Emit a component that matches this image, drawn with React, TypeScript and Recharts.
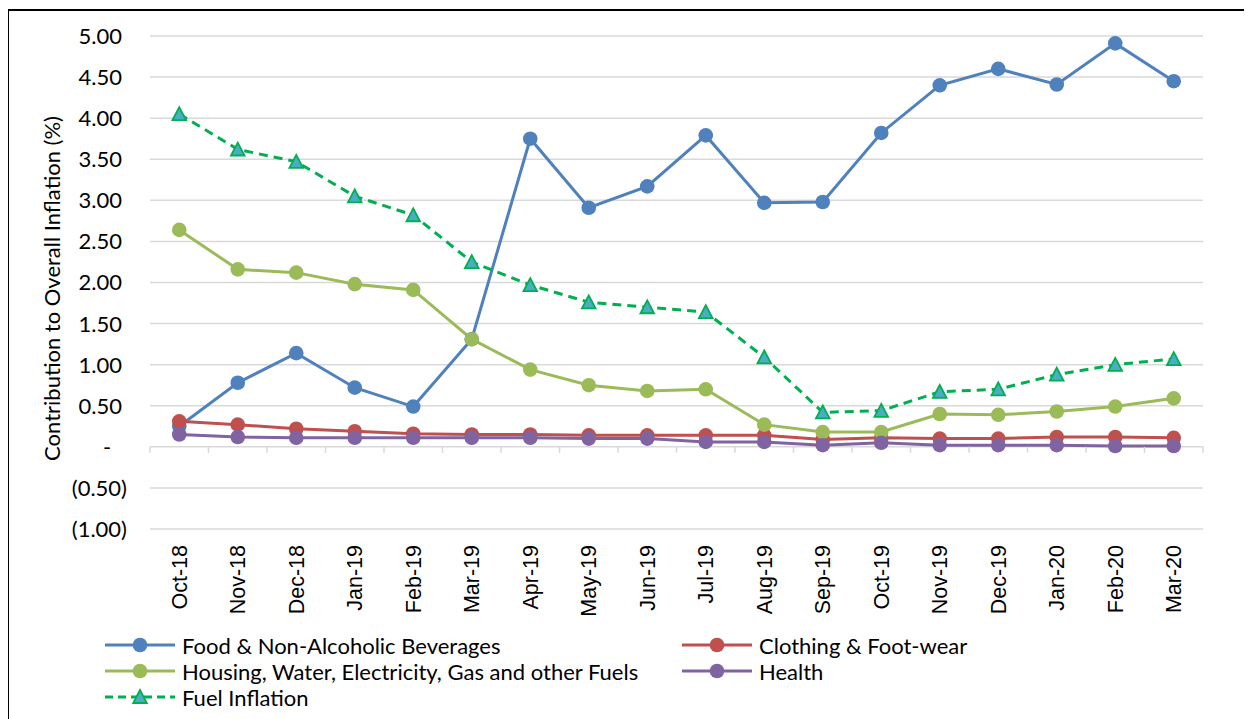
import React from 'react';
import { LineChart, Line, XAxis, YAxis, CartesianGrid, Legend } from 'recharts';

const months = ['Oct-18', 'Nov-18', 'Dec-18', 'Jan-19', 'Feb-19', 'Mar-19', 'Apr-19', 'May-19', 'Jun-19', 'Jul-19', 'Aug-19', 'Sep-19', 'Oct-19', 'Nov-19', 'Dec-19', 'Jan-20', 'Feb-20', 'Mar-20'];
const food = [0.25, 0.78, 1.14, 0.72, 0.49, 1.31, 3.75, 2.91, 3.17, 3.79, 2.97, 2.98, 3.82, 4.40, 4.60, 4.41, 4.91, 4.45];
const clothing = [0.31, 0.27, 0.22, 0.19, 0.16, 0.15, 0.15, 0.14, 0.14, 0.14, 0.14, 0.09, 0.11, 0.10, 0.10, 0.12, 0.12, 0.11];
const housing = [2.64, 2.16, 2.12, 1.98, 1.91, 1.31, 0.94, 0.75, 0.68, 0.70, 0.27, 0.18, 0.18, 0.40, 0.39, 0.43, 0.49, 0.59];
const health = [0.15, 0.12, 0.11, 0.11, 0.11, 0.11, 0.11, 0.10, 0.10, 0.06, 0.06, 0.02, 0.05, 0.02, 0.02, 0.02, 0.01, 0.01];
const fuel = [4.05, 3.62, 3.47, 3.05, 2.82, 2.25, 1.97, 1.76, 1.70, 1.64, 1.09, 0.42, 0.44, 0.67, 0.70, 0.88, 1.00, 1.07];
const yTicks = [-1, -0.5, 0, 0.5, 1, 1.5, 2, 2.5, 3, 3.5, 4, 4.5, 5];

const seriesNames = {
  food: 'Food & Non-Alcoholic Beverages',
  clothing: 'Clothing & Foot-wear',
  housing: 'Housing, Water, Electricity, Gas and other Fuels',
  health: 'Health',
  fuel: 'Fuel Inflation',
};

const data = months.map((m, i) => ({
  month: m,
  food: food[i],
  clothing: clothing[i],
  housing: housing[i],
  health: health[i],
  fuel: fuel[i],
}));

// layout
const W = 1243;
const H = 708;
const MARGIN = { top: 25, right: 49, left: 0, bottom: 90 };
const Y_AXIS_W = 141;
const X_AXIS_H = 100;
const PLOT_W = W - MARGIN.left - MARGIN.right - Y_AXIS_W;
const PLOT_H = H - MARGIN.top - MARGIN.bottom - X_AXIS_H;
const BAND = PLOT_W / months.length;
const Y_MIN = -1;
const Y_MAX = 5;

const COLORS = {
  food: '#4f81bd',
  clothing: '#c0504d',
  housing: '#9bbb59',
  health: '#8064a2',
  fuel: '#00b050',
  fuelFill: '#4bacc6',
  grid: '#d9d9d9',
};

const CAL = 'Lato, "Open Sans", sans-serif';
const ARIAL = '"Liberation Sans", Arial, sans-serif';

const XTick = (props: any) => {
  const { x, y, payload, index } = props;
  const zeroY = y - (PLOT_H * (0 - Y_MIN)) / (Y_MAX - Y_MIN);
  const half = BAND / 2;
  const ty = y + 16;
  return (
    <g>
      <line x1={x - half} x2={x - half} y1={zeroY} y2={zeroY + 6} stroke={COLORS.grid} strokeWidth={1.5} />
      {index === months.length - 1 && (
        <line x1={x + half} x2={x + half} y1={zeroY} y2={zeroY + 6} stroke={COLORS.grid} strokeWidth={1.5} />
      )}
      <text
        x={x}
        y={ty}
        dy="0.36em"
        transform={`rotate(-90, ${x}, ${ty})`}
        textAnchor="end"
        fontFamily={ARIAL}
        fontSize={21.5}
        fill="#000"
      >
        {payload.value}
      </text>
    </g>
  );
};

const YTick = (props: any) => {
  const { x, y, payload } = props;
  const v = payload.value as number;
  let label: string;
  let tx: number;
  let anchor: 'end' | 'middle' = 'end';
  if (v === 0) {
    label = '-';
    tx = x - 43;
    anchor = 'middle';
  } else if (v < 0) {
    label = `(${Math.abs(v).toFixed(2)})`;
    tx = x - 23;
  } else {
    label = v.toFixed(2);
    tx = x - 28;
  }
  return (
    <text x={tx} y={y} dy="0.36em" textAnchor={anchor} fontFamily={CAL} fontSize={22} fill="#000">
      {label}
    </text>
  );
};

const YTitle = (props: any) => {
  const { viewBox } = props;
  const cx = 43;
  const cy = viewBox.y + viewBox.height / 2 + 6;
  return (
    <text
      x={cx}
      y={cy}
      dy="0.36em"
      transform={`rotate(-90, ${cx}, ${cy})`}
      textAnchor="middle"
      fontFamily={CAL}
      fontSize={22}
      fill="#000"
    >
      Contribution to Overall Inflation (%)
    </text>
  );
};

const Triangle = (props: any) => {
  const { cx, cy, key } = props;
  if (cx == null || cy == null) return <g key={key} />;
  const s = 6.8;
  return (
    <polygon
      key={key}
      points={`${cx},${cy - s} ${cx - s},${cy + s * 0.9} ${cx + s},${cy + s * 0.9}`}
      fill={COLORS.fuelFill}
      stroke={COLORS.fuel}
      strokeWidth={1.8}
      strokeLinejoin="miter"
    />
  );
};

const legendOrder: { key: keyof typeof seriesNames; triangle?: boolean }[] = [
  { key: 'food' },
  { key: 'clothing' },
  { key: 'housing' },
  { key: 'health' },
  { key: 'fuel', triangle: true },
];

const LegendIcon = ({ k, triangle }: { k: string; triangle?: boolean }) => (
  <svg width={70} height={26} style={{ display: 'block', flex: '0 0 auto' }}>
    {triangle ? (
      <>
        <line x1={0} x2={70} y1={13} y2={13} stroke={COLORS.fuel} strokeWidth={3} strokeDasharray="8 5" />
        <polygon points="35,6 28.2,19 41.8,19" fill={COLORS.fuelFill} stroke={COLORS.fuel} strokeWidth={1.8} />
      </>
    ) : (
      <>
        <line x1={0} x2={70} y1={13} y2={13} stroke={(COLORS as any)[k]} strokeWidth={3} />
        <circle cx={35} cy={13} r={7.3} fill={(COLORS as any)[k]} />
      </>
    )}
  </svg>
);

const LegendContent = () => (
  <div style={{ display: 'grid', gridTemplateColumns: '577px 500px', fontFamily: CAL, fontSize: 22, color: '#000' }}>
    {legendOrder.map((it) => (
      <div key={it.key} style={{ display: 'flex', alignItems: 'center', height: 26.2, whiteSpace: 'nowrap' }}>
        <LegendIcon k={it.key} triangle={it.triangle} />
        <span style={{ marginLeft: 7 }}>{seriesNames[it.key]}</span>
      </div>
    ))}
  </div>
);

export default function App() {
  return (
    <div
      style={{
        boxSizing: 'border-box',
        width: 1245,
        height: 710,
        marginLeft: -1,
        marginTop: 1,
        borderTop: '2px solid #000',
        borderLeft: '2px solid #000',
        background: '#fff',
        overflow: 'hidden',
      }}
    >
      <LineChart width={W} height={H} data={data} margin={MARGIN}>
        <CartesianGrid vertical={false} stroke={COLORS.grid} strokeWidth={1.5} />
        <XAxis
          dataKey="month"
          height={X_AXIS_H}
          axisLine={false}
          tickLine={false}
          tickSize={0}
          tickMargin={0}
          interval={0}
          padding={{ left: BAND / 2, right: BAND / 2 }}
          tick={<XTick />}
        />
        <YAxis
          width={Y_AXIS_W}
          domain={[Y_MIN, Y_MAX]}
          ticks={yTicks}
          type="number"
          axisLine={false}
          tickLine={false}
          tickSize={0}
          tickMargin={0}
          tick={<YTick />}
          label={<YTitle />}
        />
        <Legend
          layout="vertical"
          align="center"
          verticalAlign="middle"
          wrapperStyle={{ top: 621, left: 96, width: 1100 }}
          content={<LegendContent />}
        />
        <Line
          dataKey="food"
          name={seriesNames.food}
          stroke={COLORS.food}
          strokeWidth={3}
          dot={{ r: 7.3, fill: COLORS.food, stroke: COLORS.food, strokeWidth: 0 }}
          activeDot={false}
          isAnimationActive={false}
        />
        <Line
          dataKey="clothing"
          name={seriesNames.clothing}
          stroke={COLORS.clothing}
          strokeWidth={3}
          dot={{ r: 7.3, fill: COLORS.clothing, stroke: COLORS.clothing, strokeWidth: 0 }}
          activeDot={false}
          isAnimationActive={false}
        />
        <Line
          dataKey="housing"
          name={seriesNames.housing}
          stroke={COLORS.housing}
          strokeWidth={3}
          dot={{ r: 7.3, fill: COLORS.housing, stroke: COLORS.housing, strokeWidth: 0 }}
          activeDot={false}
          isAnimationActive={false}
        />
        <Line
          dataKey="health"
          name={seriesNames.health}
          stroke={COLORS.health}
          strokeWidth={3}
          dot={{ r: 7.3, fill: COLORS.health, stroke: COLORS.health, strokeWidth: 0 }}
          activeDot={false}
          isAnimationActive={false}
        />
        <Line
          dataKey="fuel"
          name={seriesNames.fuel}
          stroke={COLORS.fuel}
          strokeWidth={3}
          strokeDasharray="9 6"
          dot={<Triangle />}
          activeDot={false}
          isAnimationActive={false}
        />
      </LineChart>
    </div>
  );
}
